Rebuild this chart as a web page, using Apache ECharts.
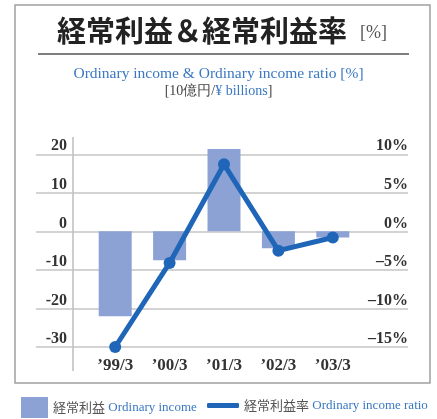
<!DOCTYPE html>
<html>
<head>
<meta charset="utf-8">
<script src="https://cdn.jsdelivr.net/npm/echarts@6/dist/echarts.min.js"></script>
<style>
  html, body { margin: 0; padding: 0; background: #fff; }
  #chart { width: 437px; height: 419px; }
</style>
</head>
<body>
<div id="chart"></div>
<script>
  // 決算期
  var years = ['\u201999/3', '\u201900/3', '\u201901/3', '\u201902/3', '\u201903/3']
  // 経常利益 (10億円)
  var income = [-22.0, -7.5, 21.4, -4.4, -1.6]
  // 経常利益率 (%)
  var ratio = [-15.0, -4.1, 8.7, -2.5, -0.8]
  var leftTicks = { min: -30, max: 25, interval: 10 }
  var rightTicks = { min: -15, max: 12.5, interval: 5 }
  var englishNames = { '経常利益': 'Ordinary income', '経常利益率': 'Ordinary income ratio' }

  var serif = 'Liberation Serif'
  var jp = 'Noto Sans CJK JP'
  var blue = '#3a78c2'
  var gridColor = '#c4c4c4'

  var legendText = {
    rich: {
      a: { fontFamily: jp, fontSize: 13, color: '#555' },
      b: { fontFamily: serif, fontSize: 13, color: blue }
    }
  }
  function legendLabel(name) {
    return '{a|' + name + '} {b|' + englishNames[name] + '}'
  }

  var myChart = echarts.init(document.getElementById('chart'), null, { renderer: 'canvas' })
  var option = {
    animation: false,
    title: [
      {
        text: '{a|経常利益＆経常利益率} {b|[%]}',
        left: 52,
        top: 11,
        textStyle: {
          rich: {
            a: { fontFamily: jp, fontSize: 29, fontWeight: 'bold', color: '#222' },
            b: { fontFamily: serif, fontSize: 18, fontWeight: 'normal', color: '#555', padding: [6, 0, 0, 8] }
          }
        }
      },
      {
        text: 'Ordinary income & Ordinary income ratio [%]',
        left: 'center',
        top: 61,
        textStyle: { fontFamily: serif, fontSize: 15.5, fontWeight: 'normal', color: blue }
      },
      {
        text: '{g|[10億円/}{b|¥ billions}{g|]}',
        left: 'center',
        top: 79,
        textStyle: {
          rich: {
            g: { fontFamily: serif, fontSize: 14, fontWeight: 'normal', color: '#444' },
            b: { fontFamily: serif, fontSize: 14, fontWeight: 'normal', color: blue }
          }
        }
      }
    ],
    graphic: [
      { type: 'rect', shape: { x: 15, y: 5, width: 415, height: 378 }, style: { fill: 'none', stroke: '#a0a0a0', lineWidth: 1.5 }, silent: true },
      { type: 'line', shape: { x1: 38, y1: 54, x2: 409, y2: 54 }, style: { stroke: '#555', lineWidth: 1.5 }, silent: true },
      { type: 'line', shape: { x1: 73, y1: 137, x2: 73, y2: 371 }, style: { stroke: '#bdbdbd', lineWidth: 1.5 }, silent: true }
    ],
    legend: [
      {
        left: 21,
        top: 397,
        padding: 0,
        itemWidth: 27,
        itemHeight: 21,
        data: [{ name: '経常利益', icon: 'rect' }],
        formatter: legendLabel,
        textStyle: legendText
      },
      {
        left: 207,
        top: 399,
        padding: 0,
        itemWidth: 32,
        itemHeight: 5,
        data: [{ name: '経常利益率', icon: 'roundRect' }],
        formatter: legendLabel,
        textStyle: legendText
      }
    ],
    grid: [
      { left: 36, right: 29, top: 135, bottom: 72 },
      { left: 88, right: 77, top: 135, bottom: 72 }
    ],
    xAxis: [
      { gridIndex: 0, type: 'value', show: false },
      {
        gridIndex: 1,
        type: 'category',
        data: years,
        axisLine: { show: false },
        axisTick: { show: false },
        axisLabel: { margin: 10, fontFamily: serif, fontSize: 17, fontWeight: 'bold', color: '#333' }
      }
    ],
    yAxis: [
      {
        gridIndex: 0,
        type: 'value',
        position: 'left',
        offset: -37,
        min: leftTicks.min,
        max: leftTicks.max,
        interval: leftTicks.interval,
        axisLine: { show: false },
        axisTick: { show: false },
        splitLine: { show: true, showMaxLine: false, lineStyle: { color: gridColor, width: 1.5 } },
        axisLabel: {
          showMaxLabel: false,
          verticalAlign: 'bottom',
          margin: 6,
          fontFamily: serif,
          fontSize: 16,
          fontWeight: 'bold',
          color: '#333'
        }
      },
      {
        gridIndex: 0,
        type: 'value',
        position: 'right',
        min: rightTicks.min,
        max: rightTicks.max,
        interval: rightTicks.interval,
        axisLine: { show: false },
        axisTick: { show: false },
        splitLine: { show: false },
        axisLabel: {
          inside: true,
          showMaxLabel: false,
          verticalAlign: 'bottom',
          margin: 0,
          fontFamily: serif,
          fontSize: 16,
          fontWeight: 'bold',
          color: '#333',
          formatter: function (v) { return (v < 0 ? '\u2013' + (-v) : v) + '%' }
        }
      },
      { gridIndex: 1, type: 'value', min: leftTicks.min, max: leftTicks.max, show: false },
      { gridIndex: 1, type: 'value', min: rightTicks.min, max: rightTicks.max, show: false }
    ],
    series: [
      {
        name: '経常利益',
        type: 'bar',
        xAxisIndex: 1,
        yAxisIndex: 2,
        barWidth: 33,
        itemStyle: { color: '#8ca2d4' },
        data: income
      },
      {
        name: '経常利益率',
        type: 'line',
        xAxisIndex: 1,
        yAxisIndex: 3,
        symbol: 'circle',
        symbolSize: 12,
        lineStyle: { color: '#1f66b8', width: 5 },
        itemStyle: { color: '#1f66b8' },
        data: ratio
      }
    ]
  }
  myChart.setOption(option)
</script>
</body>
</html>
